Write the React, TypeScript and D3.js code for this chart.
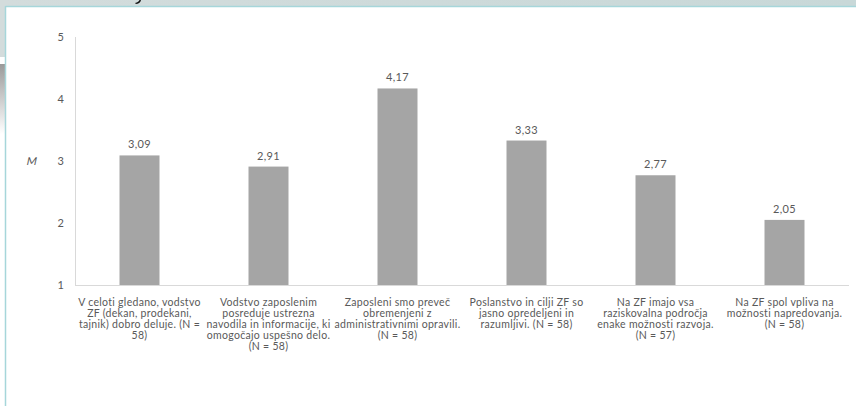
import React from "react";
import * as d3 from "d3";

// Mean scores per survey statement
const statements: string[][] = [
  ["V celoti gledano, vodstvo", "ZF (dekan, prodekani,", "tajnik) dobro deluje. (N =", "58)"],
  ["Vodstvo zaposlenim", "posreduje ustrezna", "navodila in informacije, ki", "omogočajo uspešno delo.", "(N = 58)"],
  ["Zaposleni smo preveč", "obremenjeni z", "administrativnimi opravili.", "(N = 58)"],
  ["Poslanstvo in cilji ZF so", "jasno opredeljeni in", "razumljivi. (N = 58)"],
  ["Na ZF imajo vsa", "raziskovalna področja", "enake možnosti razvoja.", "(N = 57)"],
  ["Na ZF spol vpliva na", "možnosti napredovanja.", "(N = 58)"],
];
const means: number[] = [3.09, 2.91, 4.17, 3.33, 2.77, 2.05];
const yTicks: number[] = [1, 2, 3, 4, 5];
const yTitle = "M";

const W = 856;
const H = 407;
const FONT = "Lato, 'Liberation Sans', sans-serif";
const TEXT = "#595959";
const FS = 10.5;
const LS = 0.3;

export default function App() {
  const x = d3
    .scaleBand<number>()
    .domain(d3.range(statements.length))
    .range([75, 849])
    .paddingInner(0.69)
    .paddingOuter(0.345);
  const y = d3.scaleLinear().domain([1, 5]).range([285, 37]);
  const fmt = (v: number) => d3.format(".2f")(v).replace(".", ",");
  const [x0, x1] = x.range();

  return (
    <svg
      width={W}
      height={H}
      style={{ position: "absolute", left: 0, top: 0, background: "#fff" }}
      fontFamily={FONT}
    >
      <defs>
        <linearGradient id="topBand" x1="0" x2="1" y1="0" y2="0">
          <stop offset="0" stopColor="#d3dcdc" />
          <stop offset="1" stopColor="#c8d8d8" />
        </linearGradient>
        <linearGradient id="sideFade" x1="0" x2="0" y1="0" y2="1">
          <stop offset="0" stopColor="#9a9a9a" />
          <stop offset="1" stopColor="#ffffff" />
        </linearGradient>
      </defs>

      {/* slide frame around the chart */}
      <rect x={0} y={0} width={W} height={6} fill="url(#topBand)" />
      <rect x={0} y={0} width={5} height={57} fill="#d3dcdc" />
      <rect x={0} y={64} width={5} height={70} fill="url(#sideFade)" />
      <path d="M139.5,0 L141,0 C140.5,2.5 138.5,4 135.5,4 L135.5,2.8 C137.5,2.5 139,1.5 139.5,0 Z" fill="#111" />
      <line x1={5.5} x2={W} y1={6.5} y2={6.5} stroke="#a6d6da" strokeWidth={1.5} />
      <line x1={5.5} x2={5.5} y1={6} y2={406} stroke="#a6d6da" strokeWidth={1.5} />

      {/* y axis */}
      <line x1={x0 + 0.5} x2={x0 + 0.5} y1={y(5)} y2={y(1)} stroke="#d9d9d9" />
      {yTicks.map((t) => (
        <text key={t} x={64} y={y(t) + 4} textAnchor="end" fontSize={FS + 0.5} fill={TEXT}>
          {t}
        </text>
      ))}
      <g transform="translate(31,165) skewX(-12)">
        <text x={0} y={0} textAnchor="middle" fontSize={FS + 0.5} fill={TEXT}>
          {yTitle}
        </text>
      </g>

      {/* bars and value labels */}
      {means.map((v, i) => (
        <g key={i}>
          <rect x={x(i)!} y={y(v)} width={x.bandwidth()} height={y(1) - y(v)} fill="#a5a5a5" />
          <text
            x={x(i)! + x.bandwidth() / 2}
            y={y(v) - 7}
            textAnchor="middle"
            fontSize={FS + 0.5}
            letterSpacing={LS}
            fill={TEXT}
          >
            {fmt(v)}
          </text>
        </g>
      ))}

      {/* x axis */}
      <line x1={x0} x2={x1} y1={y(1) + 0.5} y2={y(1) + 0.5} stroke="#d9d9d9" />
      {statements.map((lines, i) => (
        <text
          key={i}
          x={x(i)! + x.bandwidth() / 2}
          textAnchor="middle"
          fontSize={FS}
          letterSpacing={LS}
          fill={TEXT}
        >
          {lines.map((l, j) => (
            <tspan key={j} x={x(i)! + x.bandwidth() / 2} y={305.5 + j * 11.2}>
              {l}
            </tspan>
          ))}
        </text>
      ))}
    </svg>
  );
}
